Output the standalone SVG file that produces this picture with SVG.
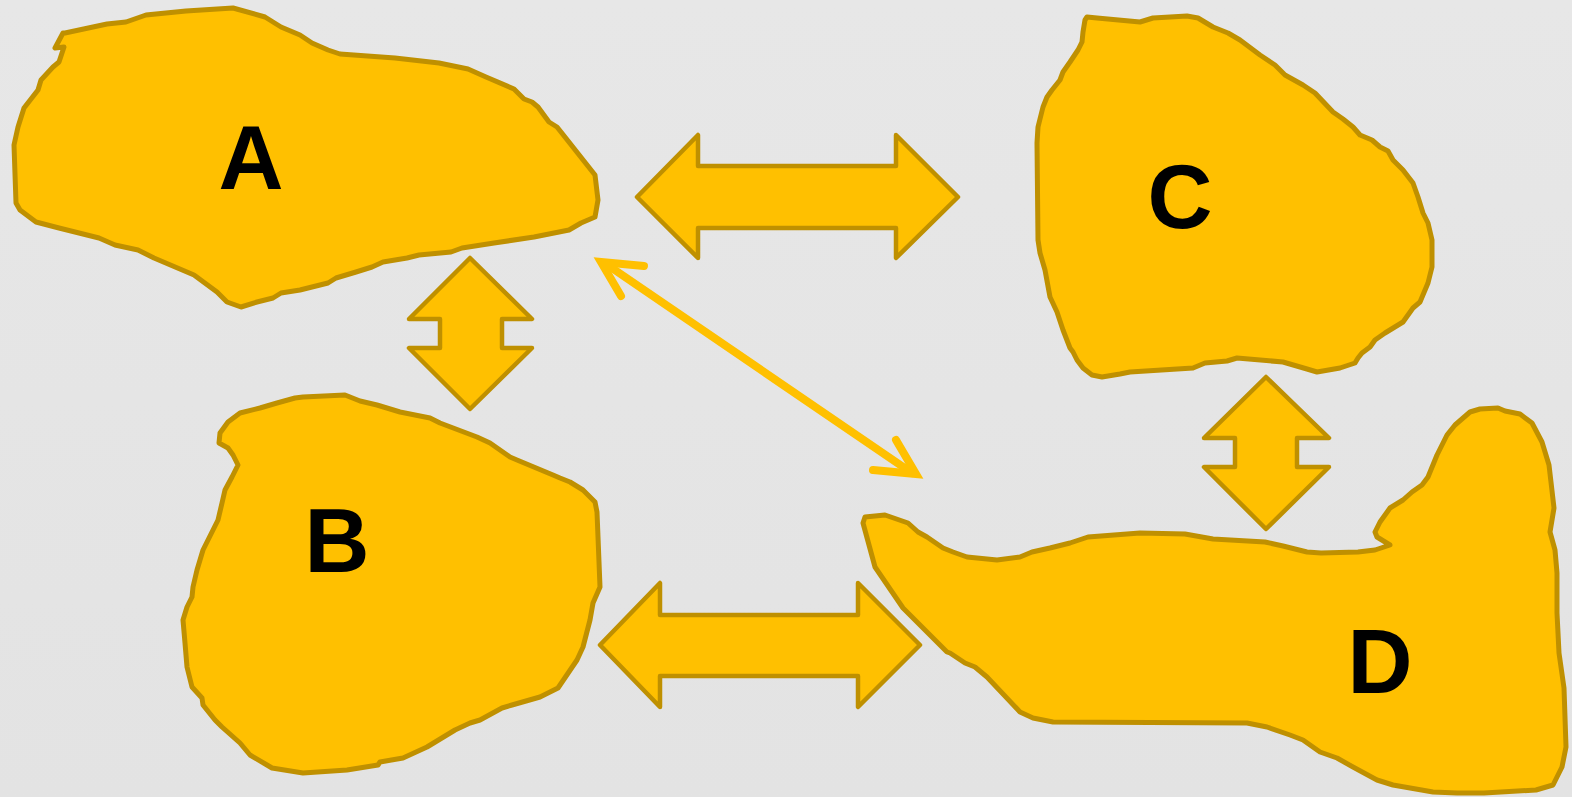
<svg xmlns="http://www.w3.org/2000/svg" width="1572" height="797" viewBox="0 0 1572 797">
<defs>
<style>
.blob{fill:#FFC000;stroke:#BF9000;stroke-width:5;stroke-linejoin:round}
.arw{fill:#FFC000;stroke:#BF9000;stroke-width:4.5;stroke-linejoin:round}
.lbl{font-family:"Liberation Sans",Arial,sans-serif;font-weight:bold;font-size:90px;fill:#000;text-anchor:middle}
.conn{fill:none;stroke:#FFC000;stroke-width:8;stroke-linecap:round}
</style>
<linearGradient id="bg" x1="0" y1="0" x2="0" y2="1">
<stop offset="0" stop-color="#E7E7E7"/>
<stop offset="1" stop-color="#E3E3E3"/>
</linearGradient>
</defs>
<rect width="1572" height="797" fill="url(#bg)"/>

<g id="node-A">
<path class="blob" d="M63,33 L55,48 L64,47 L59,62 L53,67 L41,80 L38,90 L24,108 L18,127 L14,145 L16,203 L20,210 L36,222 L59,228 L99,238 L115,245 L138,250 L154,258 L194,275 L217,292 L227,302 L241,307 L257,302 L273,298 L281,293 L300,290 L328,283 L336,278 L356,272 L372,267 L383,262 L407,258 L419,255 L451,252 L462,248 L494,243 L534,237 L569,230 L581,223 L595,217 L598,200 L595,175 L561,132 L557,127 L549,122 L538,107 L532,102 L524,99 L514,89 L486,77 L468,69 L439,63 L395,58 L340,54 L328,50 L312,43 L300,35 L281,27 L265,17 L233,8 L186,11 L146,15 L126,22 L107,24 L65,33 Z"/>
<text class="lbl" x="251" y="189">A</text>
</g>

<g id="node-B">
<path class="blob" d="M345,395 L303,397 L295,398 L277,403 L260,408 L240,413 L228,422 L220,433 L219,443 L228,448 L233,455 L238,465 L232,477 L225,490 L222,503 L218,520 L213,530 L203,550 L197,570 L193,587 L192,597 L187,607 L183,620 L185,643 L187,667 L192,687 L202,698 L203,705 L215,720 L222,727 L240,743 L250,755 L267,765 L272,768 L303,773 L347,770 L378,765 L380,762 L403,758 L427,747 L455,730 L470,723 L480,720 L502,708 L512,705 L540,697 L558,688 L577,660 L583,647 L590,620 L593,603 L600,587 L597,512 L595,502 L583,490 L570,482 L560,478 L553,475 L517,460 L510,457 L490,443 L477,437 L440,423 L430,418 L400,412 L377,405 L360,401 Z"/>
<text class="lbl" x="337" y="572">B</text>
</g>

<g id="node-C">
<path class="blob" d="M1087,17 L1097,18 L1140,22 L1153,18 L1187,16 L1198,18 L1213,27 L1228,33 L1240,40 L1260,55 L1275,65 L1285,75 L1303,85 L1315,93 L1333,112 L1343,119 L1353,127 L1360,135 L1372,140 L1380,147 L1388,151 L1393,160 L1403,170 L1413,183 L1418,197 L1423,213 L1428,223 L1432,240 L1432,267 L1428,283 L1420,302 L1413,308 L1403,322 L1385,333 L1375,340 L1370,347 L1362,353 L1358,358 L1355,363 L1340,368 L1317,372 L1307,369 L1283,362 L1237,358 L1227,361 L1205,363 L1193,368 L1130,372 L1120,374 L1102,377 L1092,375 L1083,368 L1077,360 L1073,352 L1070,348 L1063,330 L1057,312 L1050,297 L1045,270 L1040,253 L1038,240 L1037,143 L1038,127 L1043,107 L1047,97 L1052,90 L1060,80 L1063,72 L1070,62 L1078,50 L1082,42 L1083,32 L1085,20 Z"/>
<text class="lbl" x="1180" y="228">C</text>
</g>

<g id="node-D">
<path class="blob" d="M865,517 L885,515 L908,523 L918,532 L927,537 L943,548 L953,552 L967,557 L997,560 L1020,557 L1032,552 L1050,548 L1070,543 L1088,537 L1140,533 L1185,534 L1213,539 L1265,542 L1283,546 L1307,552 L1321,553 L1358,552 L1375,550 L1390,545 L1377,537 L1375,532 L1380,522 L1390,508 L1403,500 L1412,492 L1422,485 L1428,477 L1437,455 L1447,435 L1455,425 L1470,412 L1480,409 L1498,408 L1505,411 L1520,414 L1532,423 L1542,442 L1549,465 L1554,508 L1550,532 L1555,550 L1557,573 L1557,613 L1559,653 L1564,688 L1566,747 L1562,767 L1553,785 L1536,790 L1484,793 L1457,793 L1433,792 L1393,785 L1377,780 L1353,767 L1337,758 L1320,752 L1303,740 L1290,735 L1267,727 L1247,723 L1053,722 L1033,718 L1020,712 L987,677 L975,667 L965,663 L950,653 L947,652 L912,617 L903,608 L875,567 L863,523 Z"/>
<text class="lbl" x="1380" y="693">D</text>
</g>

<g id="connectors">
<path id="conn-A-C" class="arw" d="M637,197 L698,135 L698,166 L896,166 L896,135 L958,197 L896,258 L896,228 L698,228 L698,258 Z"/>
<path id="conn-A-B" class="arw" d="M470,258 L532,319 L502,319 L502,348 L532,348 L470,409 L409,348 L440,348 L440,319 L409,319 Z"/>
<path id="conn-C-D" class="arw" d="M1266,377 L1329,438 L1297,438 L1297,467 L1329,467 L1266,529 L1204,467 L1235,467 L1235,438 L1204,438 Z"/>
<path id="conn-B-D" class="arw" d="M600,645 L660,583 L660,615 L858,615 L858,583 L920,645 L858,707 L858,676 L660,676 L660,707 Z"/>
<g id="conn-A-D">
<line class="conn" x1="606" y1="264" x2="912" y2="473"/>
<path class="conn" stroke-linejoin="miter" stroke-miterlimit="10" d="M644,266 L601,262 L621,296"/>
<path class="conn" stroke-linejoin="miter" stroke-miterlimit="10" d="M873,470 L916,474 L896,440"/>
</g>
</g>
</svg>
